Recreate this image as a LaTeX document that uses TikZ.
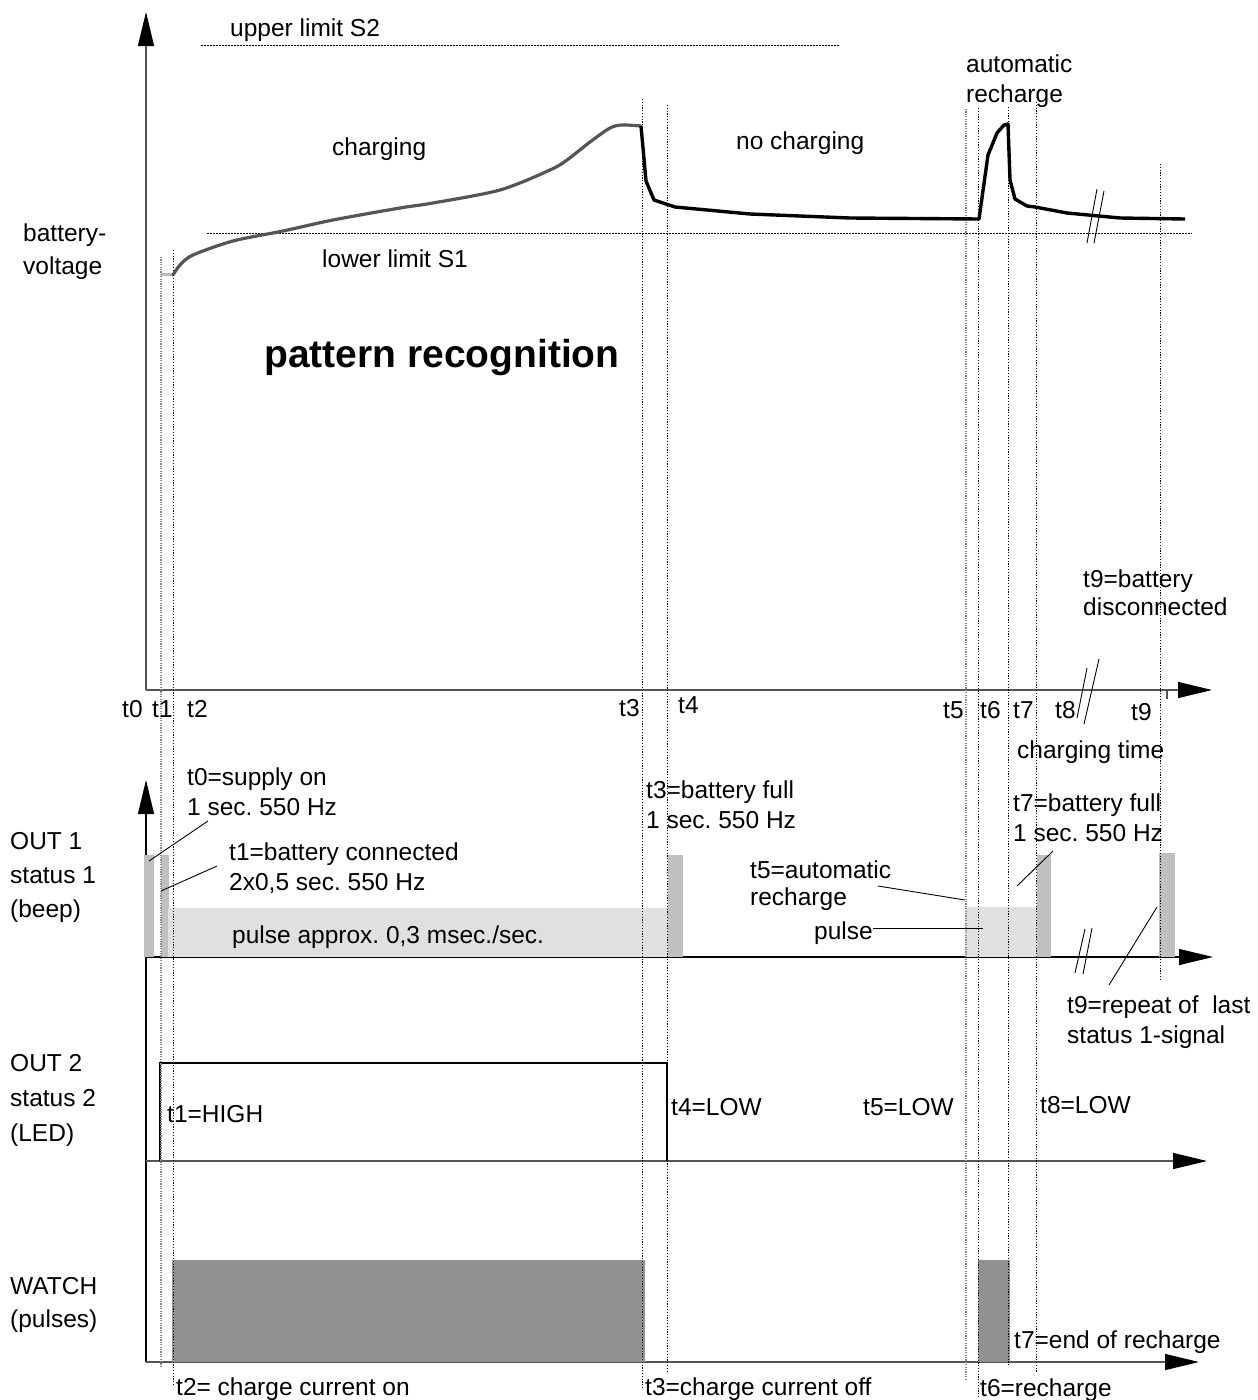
\documentclass[tikz,border=0pt]{standalone}
\usepackage{fontspec}
\setmainfont{Liberation Sans}
\usetikzlibrary{arrows.meta}
\definecolor{axgray}{HTML}{555555}
\definecolor{curvegray}{HTML}{555555}
\definecolor{midbar}{HTML}{C0C0C0}
\definecolor{lightbar}{HTML}{E0E0E0}
\definecolor{watchbar}{HTML}{919191}
\definecolor{dotgray}{HTML}{888888}
\begin{document}
\frenchspacing
\begin{tikzpicture}[x=1pt,y=-1pt,
  txt/.style={anchor=base west, inner sep=0pt, font=\fontsize{24.5}{29}\selectfont},
  bigtxt/.style={anchor=base west, inner sep=0pt, font=\fontsize{39}{45}\selectfont\bfseries},
  axisline/.style={draw=axgray, line width=1.4pt},
  axisblack/.style={draw=black, line width=1.2pt},
  tip/.style={-{Triangle[length=34pt,width=16pt,color=black]}},
  tline/.style={draw=black, line width=0.8pt, dash pattern=on 1.2pt off 1.6pt},
  tlineg/.style={draw=dotgray, line width=1.1pt, dash pattern=on 1.2pt off 1.2pt},
  limitline/.style={draw=black, line width=0.8pt, dash pattern=on 1.5pt off 1.5pt},
  leader/.style={draw=black, line width=0.9pt},
  brk/.style={draw=black, line width=0.9pt},
  sig/.style={draw=black, line width=1.6pt}]
\useasboundingbox (0,0) rectangle (1258,1400);

% ---------- axes ----------
\draw[axisline, tip] (146,690) -- (146,12);
\draw[axisline, tip] (146,690) -- (1212,690);
\draw[axisline] (1167,690) -- (1167,699);
\draw[axisblack, tip] (146,1362) -- (146,780);
\draw[axisblack, tip] (146,957) -- (1213,957);
\draw[axisline, tip] (146,1161) -- (1207,1161);
\draw[axisline, tip] (146,1362) -- (1199,1362);

% ---------- OUT1 bars ----------
\fill[midbar] (144,855) rectangle (154,957);
\fill[midbar] (161,855) rectangle (169,957);
\fill[lightbar] (168,908) rectangle (668,957);
\fill[midbar] (668,855) rectangle (683,957);
\fill[lightbar] (965,907) rectangle (1037,957);
\fill[midbar] (1037,855) rectangle (1051,957);
\fill[midbar] (1159,853) rectangle (1175,957);

% ---------- WATCH bars ----------
\fill[watchbar] (172,1260) rectangle (645,1362);
\fill[watchbar] (978,1260) rectangle (1010,1362);

% ---------- OUT2 signal ----------
\draw[sig] (160,1161) -- (160,1063) -- (667,1063) -- (667,1161);

% ---------- time lines ----------
\draw[tlineg] (161,257) -- (161,1368);
\draw[tline] (173,250) -- (173,1385);
\draw[tline] (642,99) -- (642,1388);
\draw[tline] (667,105) -- (667,1373);
\draw[tlineg] (966,109) -- (966,1380);
\draw[tline] (978,108) -- (978,1397);
\draw[tline] (1008,107) -- (1008,1367);
\draw[tline] (1036,102) -- (1036,1373);
\draw[tline] (1160,164) -- (1160,980);

% ---------- limits ----------
\draw[limitline] (201,45) -- (840,45);
\draw[limitline] (207,233) -- (1192,233);

% ---------- battery voltage curve ----------
\draw[draw=lightgray!90!gray, line width=3pt] (161,274) -- (173,274);
\draw[draw=curvegray, line width=3.2pt, line cap=round] plot[smooth, tension=0.5] coordinates {
 (173,275) (180,265) (193,255) (233,241) (283,231) (333,220) (400,208) (433,203) (500,190)
 (550,170) (567,160) (590,142) (610,128) (622,125) (641,126)};
\draw[draw=black, line width=3.4pt, line join=round] (641,126) -- (646,181) -- (654,200) -- (675,207)
 -- (750,214) -- (850,218) -- (979,219) -- (988,155) -- (997,133) -- (1004,125) -- (1008,124)
 -- (1010,180) -- (1015,199) -- (1027,206) -- (1035,207) -- (1067,213) -- (1120,218) -- (1185,219);

% ---------- break marks ----------
\draw[brk] (1087,243) -- (1097,189);
\draw[brk] (1094,243) -- (1104,191);
\draw[brk] (1077,718) -- (1087,668);
\draw[brk] (1084,724) -- (1099,659);
\draw[brk] (1075,973) -- (1085,929);
\draw[brk] (1083,974) -- (1092,928);

% ---------- leaders ----------
\draw[leader] (208,821) -- (149,861);
\draw[leader] (217,866) -- (161,891);
\draw[leader] (878,886) -- (965,900);
\draw[leader] (873,928) -- (983,928);
\draw[leader] (1053,851) -- (1017,886);
\draw[leader] (1157,907) -- (1109,985);

% ---------- texts: top chart ----------
\node[txt] (us2) at (230,36) {upper limit S2};
\node[txt] (chg) at (332,155) {charging};
\node[txt] (nochg) at (736,149) {no charging};
\node[txt] (auto1) at (966,72) {automatic};
\node[txt] (auto2) at (966,102) {recharge};
\node[txt] (bv1) at (23,241) {battery-};
\node[txt] (bv2) at (23,274) {voltage};
\node[txt] (ls1) at (322,267) {lower limit S1};
\node[bigtxt] (pr) at (264,367) {pattern recognition};
\node[txt] (t9a) at (1083,587) {t9=battery};
\node[txt] (t9b) at (1083,615) {disconnected};

% axis labels
\node[txt] (lt0) at (122,717) {t0};
\node[txt] (lt1) at (152,717) {t1};
\node[txt] (lt2) at (187,717) {t2};
\node[txt] (lt3) at (619,716) {t3};
\node[txt] (lt4) at (678,713) {t4};
\node[txt] (lt5) at (943,718) {t5};
\node[txt] (lt6) at (980,718) {t6};
\node[txt] (lt7) at (1013,718) {t7};
\node[txt] (lt8) at (1055,718) {t8};
\node[txt] (lt9) at (1131,720) {t9};
\node[txt] (ctime) at (1017,758) {charging time};

% ---------- texts: OUT1 ----------
\node[txt] (o1a) at (10,849) {OUT 1};
\node[txt] (o1b) at (10,883) {status 1};
\node[txt] (o1c) at (10,917) {(beep)};
\node[txt] (s0a) at (187,785) {t0=supply on};
\node[txt] (s0b) at (187,815) {1 sec. 550 Hz};
\node[txt] (s1a) at (229,860) {t1=battery connected};
\node[txt] (s1b) at (229,890) {2x0,5 sec. 550 Hz};
\node[txt] (pap) at (232,943) {pulse approx. 0,3 msec./sec.};
\node[txt] (s3a) at (646,798) {t3=battery full};
\node[txt] (s3b) at (646,828) {1 sec. 550 Hz};
\node[txt] (s7a) at (1013,811) {t7=battery full};
\node[txt] (s7b) at (1013,841) {1 sec. 550 Hz};
\node[txt] (s5a) at (750,878) {t5=automatic};
\node[txt] (s5b) at (750,905) {recharge};
\node[txt] (pls) at (814,939) {pulse};
\node[txt] (s9a) at (1067,1013) {t9=repeat of\ \ last};
\node[txt] (s9b) at (1067,1043) {status 1-signal};

% ---------- texts: OUT2 ----------
\node[txt] (o2a) at (10,1071) {OUT 2};
\node[txt] (o2b) at (10,1106) {status 2};
\node[txt] (o2c) at (10,1141) {(LED)};
\node[txt] (hi) at (167,1122) {t1=HIGH};
\node[txt] (lo4) at (671,1115) {t4=LOW};
\node[txt] (lo5) at (863,1115) {t5=LOW};
\node[txt] (lo8) at (1040,1113) {t8=LOW};

% ---------- texts: WATCH ----------
\node[txt] (wa) at (10,1294) {WATCH};
\node[txt] (wb) at (10,1327) {(pulses)};
\node[txt] (w2) at (176,1395) {t2= charge current on};
\node[txt] (w3) at (645,1395) {t3=charge current off};
\node[txt] (w6) at (980,1396) {t6=recharge};
\node[txt] (w7) at (1014,1348) {t7=end of recharge};
\end{tikzpicture}
\end{document}
